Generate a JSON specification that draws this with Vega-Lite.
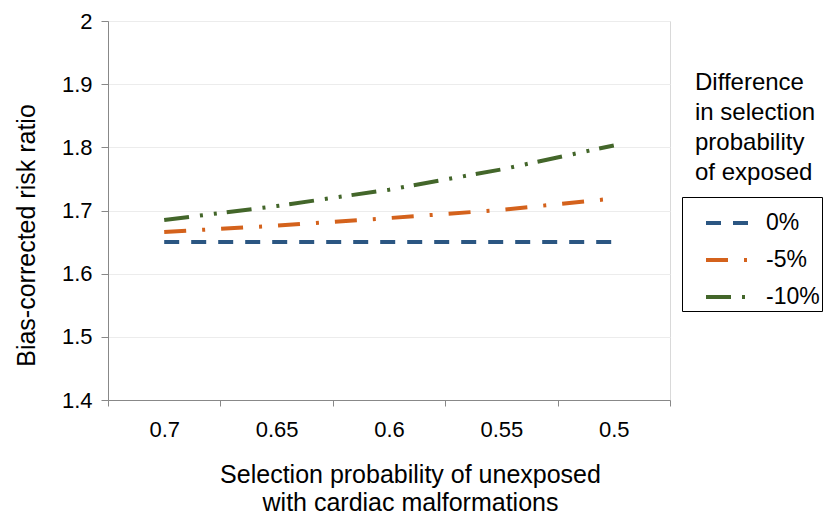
{
  "$schema": "https://vega.github.io/schema/vega-lite/v6.json",
  "autosize": {"type": "none"},
  "padding": {"left": 108, "top": 21, "right": 160, "bottom": 115},
  "width": 562,
  "height": 379,
  "background": "white",
  "config": {
    "font": "Liberation Sans",
    "view": {"stroke": "#d9d9d9", "strokeWidth": 1}
  },
  "title": {
    "text": ["Difference", "in selection", "probability", "of exposed"],
    "anchor": "end",
    "frame": "group",
    "align": "left",
    "baseline": "top",
    "fontSize": 24,
    "fontWeight": "normal",
    "lineHeight": 30,
    "color": "#000",
    "dx": 25,
    "dy": 179
  },
  "data": {
    "values": [
      {"sel": "0.7", "diff": "0%", "rr": 1.65},
      {"sel": "0.65", "diff": "0%", "rr": 1.65},
      {"sel": "0.6", "diff": "0%", "rr": 1.65},
      {"sel": "0.55", "diff": "0%", "rr": 1.65},
      {"sel": "0.5", "diff": "0%", "rr": 1.65},
      {"sel": "0.7", "diff": "-5%", "rr": 1.666},
      {"sel": "0.65", "diff": "-5%", "rr": 1.676},
      {"sel": "0.6", "diff": "-5%", "rr": 1.688},
      {"sel": "0.55", "diff": "-5%", "rr": 1.701},
      {"sel": "0.5", "diff": "-5%", "rr": 1.719},
      {"sel": "0.7", "diff": "-10%", "rr": 1.685},
      {"sel": "0.65", "diff": "-10%", "rr": 1.707},
      {"sel": "0.6", "diff": "-10%", "rr": 1.733},
      {"sel": "0.55", "diff": "-10%", "rr": 1.765},
      {"sel": "0.5", "diff": "-10%", "rr": 1.803}
    ]
  },
  "mark": {"type": "line", "strokeWidth": 4, "strokeCap": "butt"},
  "encoding": {
    "x": {
      "field": "sel",
      "type": "ordinal",
      "sort": ["0.7", "0.65", "0.6", "0.55", "0.5"],
      "bandPosition": 0.5,
      "scale": {"type": "band", "paddingInner": 0, "paddingOuter": 0},
      "axis": {
        "title": ["Selection probability of unexposed", "with cardiac malformations"],
        "titleFontSize": 25,
        "titleFontWeight": "normal",
        "titleColor": "#000",
        "titlePadding": 22,
        "titleLineHeight": 28,
        "titleX": 302,
        "labelAngle": 0,
        "labelFontSize": 22,
        "labelColor": "#000",
        "labelPadding": 13,
        "tickBand": "extent",
        "tickSize": 6,
        "tickColor": "#888",
        "domainColor": "#888",
        "grid": false
      }
    },
    "y": {
      "field": "rr",
      "type": "quantitative",
      "scale": {"domain": [1.4, 2], "nice": false, "zero": false},
      "axis": {
        "title": "Bias-corrected risk ratio",
        "titleFontSize": 25,
        "titleFontWeight": "normal",
        "titleColor": "#000",
        "titlePadding": 22,
        "titleY": 214,
        "values": [1.4, 1.5, 1.6, 1.7, 1.8, 1.9, 2],
        "format": "~g",
        "labelFontSize": 22,
        "labelColor": "#000",
        "labelPadding": 9,
        "tickSize": 7,
        "tickColor": "#888",
        "domainColor": "#888",
        "grid": true,
        "gridColor": "#ececec"
      }
    },
    "color": {
      "field": "diff",
      "type": "nominal",
      "scale": {"domain": ["0%", "-5%", "-10%"], "range": ["#2B5682", "#D4621C", "#43662A"]},
      "legend": {
        "title": null,
        "orient": "none",
        "legendX": 574,
        "legendY": 176,
        "strokeColor": "#000",
        "padding": 2,
        "symbolType": "stroke",
        "symbolSize": 1936,
        "symbolStrokeWidth": 4,
        "symbolOffset": 20,
        "labelFontSize": 23,
        "labelColor": "#000",
        "labelOffset": 14,
        "rowPadding": 1,
        "labelLimit": 200
      }
    },
    "strokeDash": {
      "field": "diff",
      "type": "nominal",
      "scale": {"domain": ["0%", "-5%", "-10%"], "range": [[15, 12], [22, 16, 3, 16], [25, 11, 3, 11, 3, 10]]},
      "legend": {
        "title": null,
        "orient": "none",
        "legendX": 574,
        "legendY": 176,
        "strokeColor": "#000",
        "padding": 2,
        "symbolType": "stroke",
        "symbolSize": 1936,
        "symbolStrokeWidth": 4,
        "symbolOffset": 20,
        "labelFontSize": 23,
        "labelColor": "#000",
        "labelOffset": 14,
        "rowPadding": 1,
        "labelLimit": 200
      }
    }
  }
}
